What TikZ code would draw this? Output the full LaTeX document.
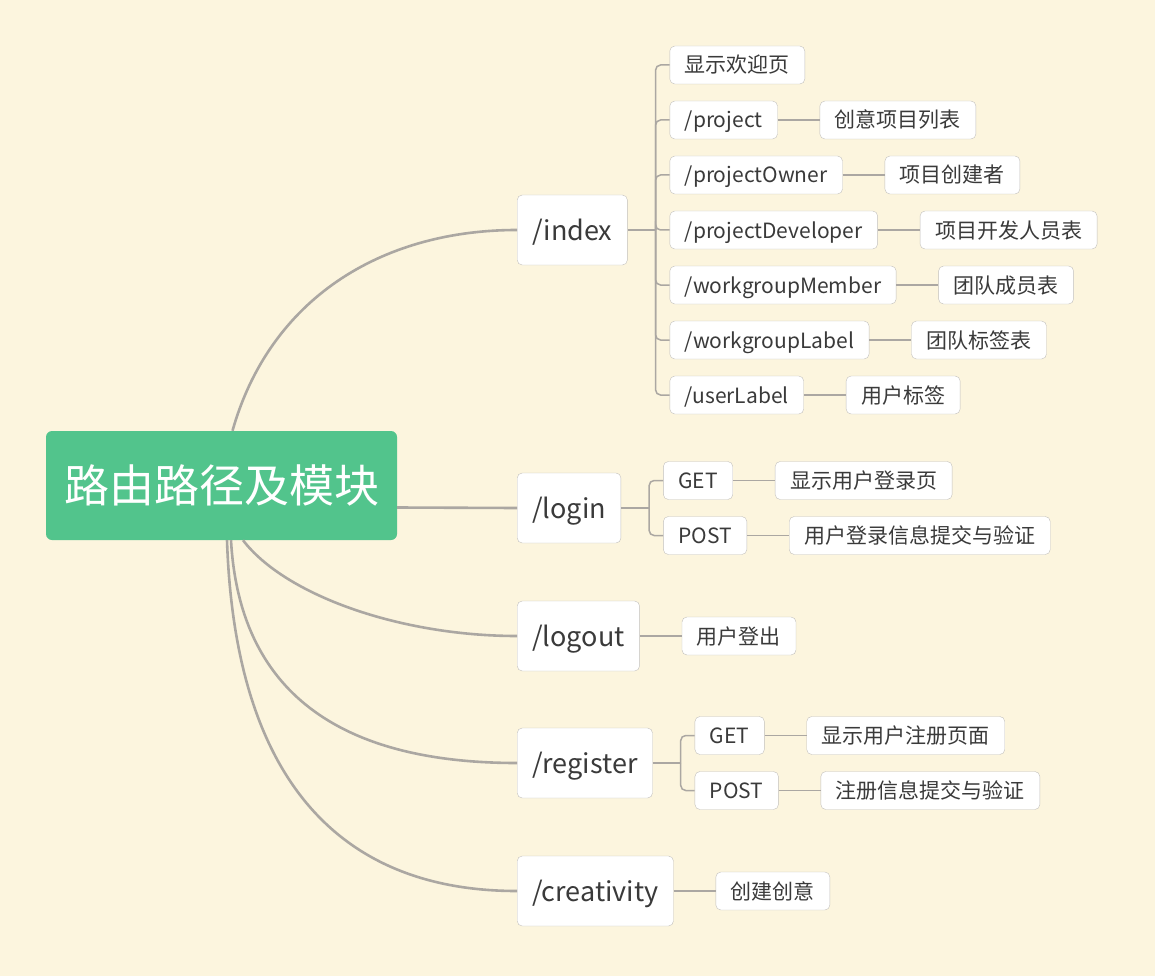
\documentclass[tikz,border=0pt]{standalone}
\usepackage{fontspec}
\setmainfont{Noto Sans CJK SC}
\usetikzlibrary{positioning,calc}

\definecolor{paper}{HTML}{FCF5DE}
\definecolor{rootgreen}{HTML}{52C48C}
\definecolor{linkgrey}{HTML}{ABA7A2}
\definecolor{boxline}{HTML}{C2C0BC}
\definecolor{ink}{HTML}{3A3A3A}

\begin{document}
\begin{tikzpicture}[x=1pt,y=-1pt,
		root/.style={fill=rootgreen, text=white, rounded corners=6pt,
			minimum width=351pt, minimum height=109pt,
			font=\fontsize{45}{54}\selectfont},
		route/.style={draw=boxline, fill=white, text=ink, rounded corners=5pt,
			minimum height=70pt, inner xsep=15pt, text height=23.8pt, text depth=3.2pt,
			font=\fontsize{27}{32}\selectfont},
		sub/.style={draw=boxline, fill=white, text=ink, rounded corners=5pt,
			minimum height=38pt, inner xsep=15pt, text height=18.5pt, text depth=2.5pt,
			font=\fontsize{21}{25}\selectfont},
		trunk/.style={linkgrey, line width=2.6pt},
		branch/.style={linkgrey, line width=1.5pt, rounded corners=5pt}]

		%canvas
		\fill[paper] (0,0) rectangle (1155,976);
		\useasboundingbox (0,0) rectangle (1155,976);

		%root and routes
		\node[root] (root) at (221.5,485.5) {路由路径及模块};
		\node[route, anchor=west] (index) at (517,230) {/index};
		\node[route, anchor=west] (login) at (517,508) {/login};
		\node[route, anchor=west] (logout) at (517,636) {/logout};
		\node[route, anchor=west] (register) at (517,763) {/register};
		\node[route, anchor=west] (creativity) at (517,891) {/creativity};

		%curves from root
		\draw[trunk] ([xshift=11pt]root.north) .. controls +(37,-131) and +(-137,0) .. (index.west);
		\draw[trunk] ([yshift=-22pt]root.east) .. controls +(60,1) and +(-60,0) .. (login.west);
		\draw[trunk] ([xshift=21.5pt]root.south) .. controls +(42,55) and +(-117,0) .. (logout.west);
		\draw[trunk] ([xshift=9.5pt]root.south) .. controls +(9,160) and +(-167,0) .. (register.west);
		\draw[trunk] ([xshift=5.5pt]root.south) .. controls +(8,240) and +(-177,0) .. (creativity.west);

		%index
		\foreach \name/\txt [count=\i] in {welcome/显示欢迎页, project/{/project},
			owner/{/projectOwner}, developer/{/projectDeveloper},
			member/{/workgroupMember}, wlabel/{/workgroupLabel}, ulabel/{/userLabel}}
			\node[sub, right=42pt of index, yshift={(4-\i)*55pt}] (\name) {\txt};
		\node[sub, right=42pt of project] (projectlist) {创意项目列表};
		\node[sub, right=42pt of owner] (ownerinfo) {项目创建者};
		\node[sub, right=42pt of developer] (developerlist) {项目开发人员表};
		\node[sub, right=42pt of member] (memberlist) {团队成员表};
		\node[sub, right=42pt of wlabel] (wlabellist) {团队标签表};
		\node[sub, right=42pt of ulabel] (ulabelinfo) {用户标签};

		\coordinate (ibus) at ($(index.east)+(28,0)$);
		\draw[branch] (index.east) -- (ibus);
		\foreach \name in {welcome,project,owner,developer,member,wlabel,ulabel}
			\draw[branch] (ibus) |- (\name.west);
		\draw[branch] (project.east) -- (projectlist.west);
		\draw[branch] (owner.east) -- (ownerinfo.west);
		\draw[branch] (developer.east) -- (developerlist.west);
		\draw[branch] (member.east) -- (memberlist.west);
		\draw[branch] (wlabel.east) -- (wlabellist.west);
		\draw[branch] (ulabel.east) -- (ulabelinfo.west);

		%login
		\node[sub, right=42pt of login, yshift=27.5pt] (loginget) {GET};
		\node[sub, right=42pt of login, yshift=-27.5pt] (loginpost) {POST};
		\node[sub, right=42pt of loginget] (loginpage) {显示用户登录页};
		\node[sub, right=42pt of loginpost] (logincheck) {用户登录信息提交与验证};
		\coordinate (lbus) at ($(login.east)+(28,0)$);
		\draw[branch] (login.east) -- (lbus);
		\draw[branch] (lbus) |- (loginget.west);
		\draw[branch] (lbus) |- (loginpost.west);
		\draw[branch] (loginget.east) -- (loginpage.west);
		\draw[branch] (loginpost.east) -- (logincheck.west);

		%logout
		\node[sub, right=42pt of logout] (logoutinfo) {用户登出};
		\draw[branch] (logout.east) -- (logoutinfo.west);

		%register
		\node[sub, right=42pt of register, yshift=27.5pt] (regget) {GET};
		\node[sub, right=42pt of register, yshift=-27.5pt] (regpost) {POST};
		\node[sub, right=42pt of regget] (regpage) {显示用户注册页面};
		\node[sub, right=42pt of regpost] (regcheck) {注册信息提交与验证};
		\coordinate (rbus) at ($(register.east)+(28,0)$);
		\draw[branch] (register.east) -- (rbus);
		\draw[branch] (rbus) |- (regget.west);
		\draw[branch] (rbus) |- (regpost.west);
		\draw[branch] (regget.east) -- (regpage.west);
		\draw[branch] (regpost.east) -- (regcheck.west);

		%creativity
		\node[sub, right=42pt of creativity] (creativityinfo) {创建创意};
		\draw[branch] (creativity.east) -- (creativityinfo.west);
	\end{tikzpicture}
\end{document}
